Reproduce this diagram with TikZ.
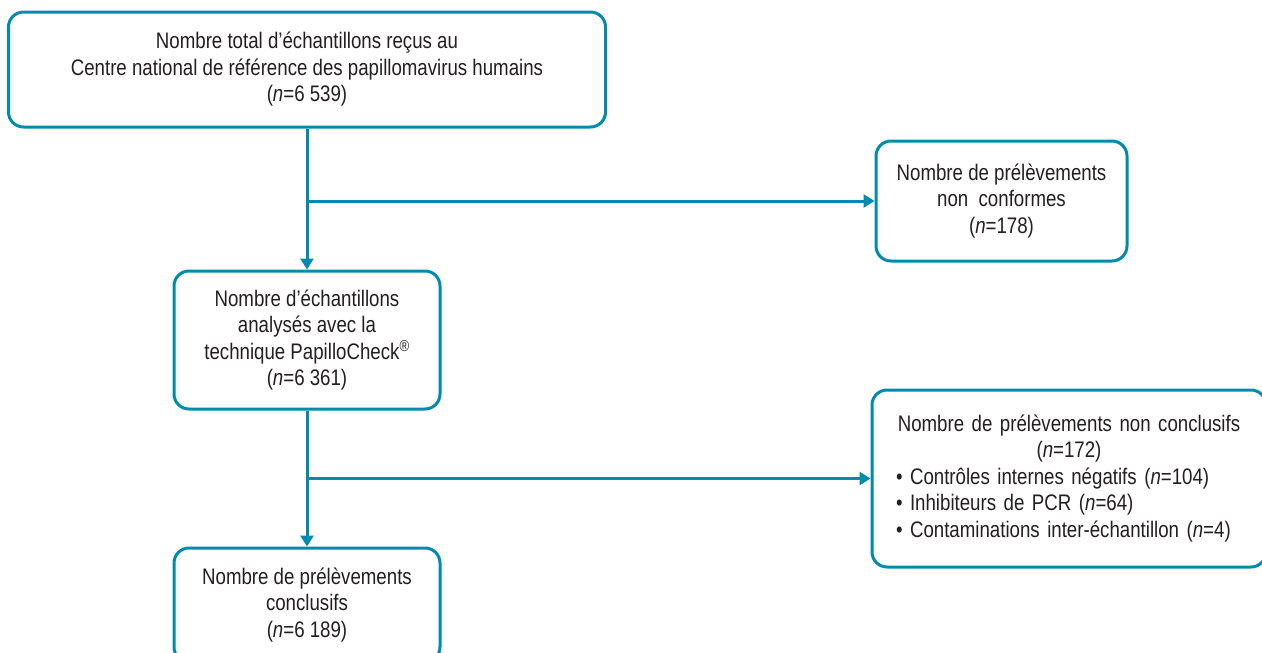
\documentclass[tikz,border=0pt]{standalone}
\usepackage{fontspec}
\setmainfont{Liberation Sans}[FakeStretch=0.83]
\usetikzlibrary{arrows.meta,calc}
\definecolor{flowline}{HTML}{008BAE}
\definecolor{flowtext}{HTML}{231F20}

\begin{document}
\begin{tikzpicture}[x=1pt, y=-1pt, >={Triangle[width=13pt,length=11pt]},
    box/.style={draw=flowline, line width=3pt, rounded corners=15pt, inner sep=0pt,
        align=center, text=flowtext, font=\fontsize{22.5}{26.5}\selectfont},
    flow/.style={draw=flowline, line width=3pt, ->}]
    \useasboundingbox (0,0) rectangle (1262,653);

    \node[box, minimum width=597pt, minimum height=115pt] (total) at (307,69.5)
        {Nombre total d’échantillons reçus au\\
         Centre national de référence des papillomavirus humains\\
         (\textit{n}=6 539)};
    \node[box, minimum width=251pt, minimum height=120pt] (nonconf) at (1001.5,201)
        {Nombre de prélèvements\\ non\ \ conformes\\ (\textit{n}=178)};
    \node[box, minimum width=266pt, minimum height=138pt] (analyses) at (307,340)
        {Nombre d’échantillons\\ analysés avec la\\
         technique PapilloCheck\textsuperscript{®}\\ (\textit{n}=6 361)};
    \node[box, minimum width=394pt, minimum height=177pt, text width=346pt, align=left] (nonconcl) at (1069,478.5)
        {\makebox[\linewidth][c]{Nombre de prélèvements non conclusifs}\\
         \makebox[\linewidth][c]{(\textit{n}=172)}\\
         \textbullet{} Contrôles internes négatifs (\textit{n}=104)\\
         \textbullet{} Inhibiteurs de PCR (\textit{n}=64)\\
         \textbullet{} Contaminations inter-échantillon (\textit{n}=4)};
    \node[box, minimum width=266pt, minimum height=114pt] (concl) at (307,605)
        {Nombre de prélèvements\\ conclusifs\\ (\textit{n}=6 189)};

    % main flow
    \draw[flow] (total.south) -- (analyses.north);
    \draw[flow] (analyses.south) -- (concl.north);

    % exclusions
    \coordinate (split1) at (total.south |- nonconf.west);
    \coordinate (split2) at (analyses.south |- nonconcl.west);
    \draw[flow] (split1) -- (nonconf.west);
    \draw[flow] (split2) -- (nonconcl.west);
\end{tikzpicture}
\end{document}
